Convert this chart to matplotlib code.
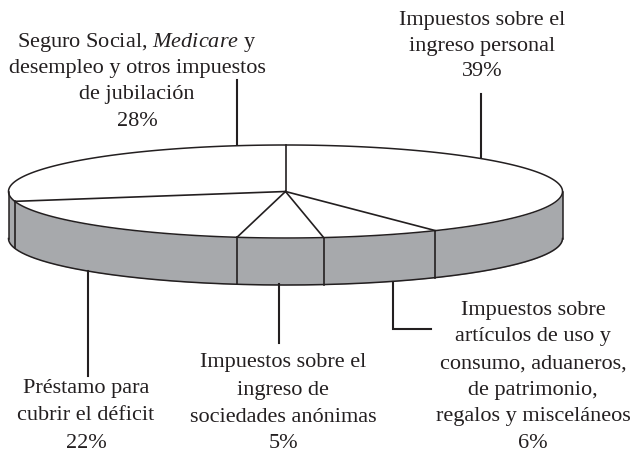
import numpy as np
import matplotlib
matplotlib.use('Agg')
import matplotlib.pyplot as plt

plt.rcParams['font.family'] = ['Liberation Serif', 'DejaVu Serif']
plt.rcParams['mathtext.fontset'] = 'custom'
plt.rcParams['mathtext.it'] = 'Liberation Serif:italic'

# Data
categories = ['Impuestos sobre el ingreso personal',
              'Impuestos sobre artículos de uso y consumo',
              'Impuestos sobre el ingreso de sociedades anónimas',
              'Préstamo para cubrir el déficit',
              'Seguro Social y Medicare']
percent_labels = [39, 6, 5, 22, 28]
# the slices in the drawing are not true to the printed numbers, so read them off
drawn_shares = [40.9, 6.9, 5.0, 18.8, 28.4]

RIM = '#a7a9ac'
INK = '#231f20'
cx, cy, a, b, depth = 285.5, 191.5, 277, 46.5, 47


def edge(share):
    t = np.asarray(share) / 100 * 2 * np.pi
    return cx + a * np.sin(t), cy - b * np.cos(t)


fig = plt.figure(figsize=(6.31, 4.58), dpi=100)
ax = fig.add_axes([0, 0, 1, 1])
ax.set_xlim(0, 631)
ax.set_ylim(458, 0)
ax.axis('off')

# Rim below the front half of the ellipse
front = np.linspace(25, 75, 300)
fx, fy = edge(front)
ax.fill_between(fx, fy, fy + depth, color=RIM, lw=0, zorder=1)
ax.plot(fx, fy + depth, color=INK, lw=1.1, zorder=3)
ax.plot([fx[0], fx[0]], [fy[0], fy[0] + depth], color=INK, lw=1.1, zorder=3)
ax.plot([fx[-1], fx[-1]], [fy[-1], fy[-1] + depth], color=INK, lw=1.1, zorder=3)

# Top of the pie
all_x, all_y = edge(np.linspace(0, 100, 500))
ax.fill(all_x, all_y, facecolor='white', edgecolor=INK, lw=1.1, zorder=2)

# Slice edges, first one starts at twelve o'clock
cum = np.concatenate([[0], np.cumsum(drawn_shares)[:-1]])
for c in cum:
    ex, ey = edge(c)
    ax.plot([cx, ex], [cy, ey], color=INK, lw=1.2, zorder=4)
    if 25 < c < 75:
        ax.plot([ex, ex], [ey, ey + depth], color=INK, lw=1.2, zorder=4)

# Leader lines
leaders = [([481, 481], [94, 158]),
           ([236.5, 236.5], [80, 146]),
           ([88, 88], [271, 376]),
           ([279, 279], [284, 343]),
           ([392.5, 392.5, 431], [282, 329, 329])]
for lx, ly in leaders:
    ax.plot(lx, ly, color=INK, lw=1.5, solid_joinstyle='miter', zorder=1)

# Labels
label_lines = [
    (482, [20, 46, 72], ['Impuestos sobre el', 'ingreso personal', f'{percent_labels[0]}%']),
    (137, [42, 68, 94, 121], ['Seguro Social, $\\mathit{Medicare}$ y',
                              'desempleo y otros impuestos', 'de jubilación',
                              f'{percent_labels[4]}%']),
    (533, [310, 337, 364, 390, 417, 444], ['Impuestos sobre', 'artículos de uso y',
                                            'consumo, aduaneros,', 'de patrimonio,',
                                            'regalos y misceláneos', f'{percent_labels[1]}%']),
    (283, [363, 390, 418, 444], ['Impuestos sobre el', 'ingreso de',
                                 'sociedades anónimas', f'{percent_labels[2]}%']),
    (86, [388, 415, 443], ['Préstamo para', 'cubrir el déficit', f'{percent_labels[3]}%']),
]
for x, ys, lines in label_lines:
    for y, line in zip(ys, lines):
        ax.text(x, y, line, ha='center', va='center', fontsize=16, color=INK)

fig.savefig('out.png', dpi=100)
